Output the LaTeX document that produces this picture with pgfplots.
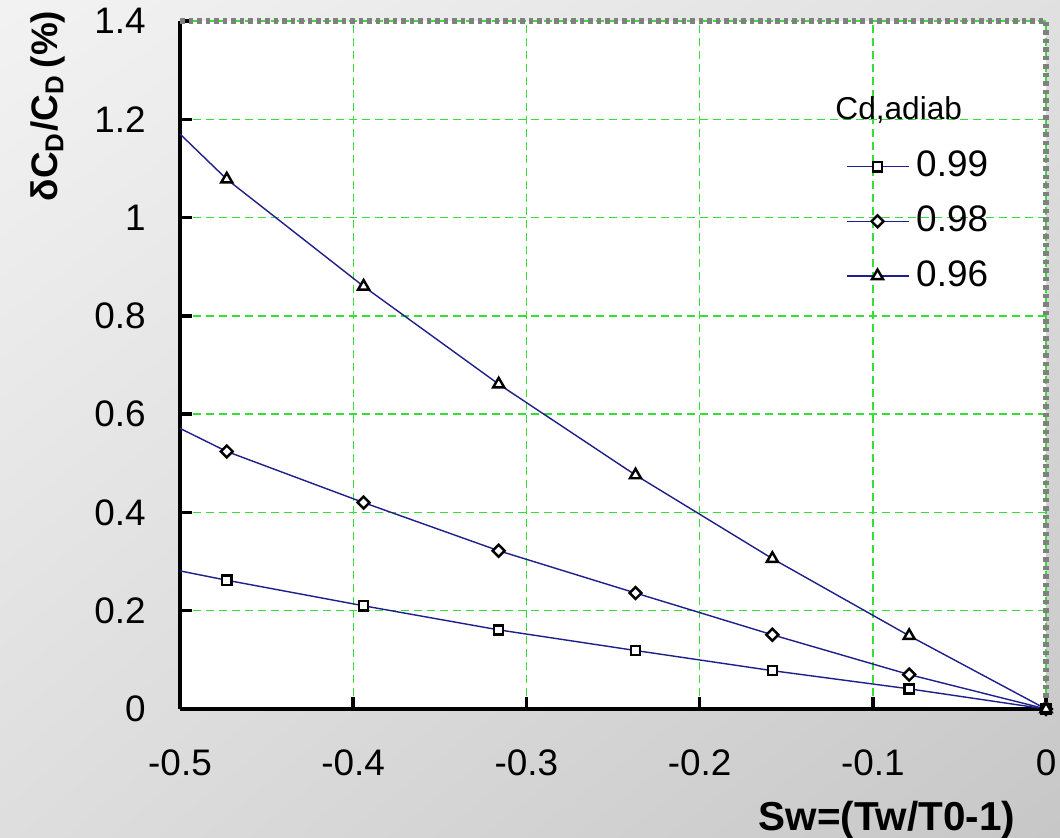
\documentclass[border=0pt]{standalone}
\usepackage{fontspec}
\setmainfont{Liberation Sans}
\usepackage{pgfplots}
\usetikzlibrary{shadings}
\pgfplotsset{compat=1.18}
\definecolor{navyl}{rgb}{0.12,0.12,0.55}
\definecolor{gridg}{rgb}{0.2,0.88,0.2}
\begin{document}
\begin{tikzpicture}[x=1mm,y=1mm]
\shade[use as bounding box, upper left=black!5, upper right=black!12, lower left=black!13, lower right=black!22] (0,0) rectangle (106,83.8);
\begin{axis}[
  at={(18mm,12.9mm)}, anchor=south west,
  scale only axis, width=86.6mm, height=68.8mm,
  xmin=-0.5, xmax=0, ymin=0, ymax=1.4,
  xtick={-0.5,-0.4,...,0.01}, ytick={0,0.2,...,1.41},
  axis x line*=bottom, axis y line*=left,
  axis line style={line width=1.4pt, black, -},
  axis background/.style={fill=white},
  tick align=inside, major tick length=1.2mm,
  every tick/.style={line width=1pt, black},
  grid=major, major grid style={gridg, dash pattern=on 0.8mm off 0.5mm, line width=0.4pt},
  /pgf/number format/assume math mode=true,
  tick label style={font=\fontsize{10.5}{12}\selectfont},
  yticklabel style={xshift=-2.2mm},
  xticklabel style={yshift=-2.8mm},
  clip=false,
  legend style={at={(rel axis cs:0.768,0.822)}, anchor=north west, draw=none, fill=none,
    font=\fontsize{10.5}{12}\selectfont, row sep=0.95mm, inner sep=0pt,
    /tikz/every even column/.append style={column sep=1mm}},
  legend cell align=left,
  legend image code/.code={\draw[mark indices={2}] plot coordinates {(0mm,0mm) (3.1mm,0mm) (6.2mm,0mm)};},
  every axis plot/.append style={navyl, line width=0.4pt, mark options={black, fill=white, line width=0.7pt, solid}},
]
\addplot[mark=square*, mark size=1.3pt, mark indices={2,...,8}] coordinates {
(-0.5,0.281) (-0.473,0.262) (-0.394,0.210) (-0.316,0.161) (-0.237,0.119) (-0.158,0.078) (-0.079,0.041) (0,0)};
\addlegendentry{0.99}
\addplot[mark=square*, mark size=1.2pt, every mark/.append style={rotate=45}, mark indices={2,...,8}] coordinates {
(-0.5,0.571) (-0.473,0.524) (-0.394,0.420) (-0.316,0.322) (-0.237,0.236) (-0.158,0.151) (-0.079,0.070) (0,0)};
\addlegendentry{0.98}
\addplot[mark=triangle*, mark size=1.8pt, mark indices={2,...,8}] coordinates {
(-0.5,1.170) (-0.473,1.078) (-0.394,0.860) (-0.316,0.661) (-0.237,0.476) (-0.158,0.306) (-0.079,0.149) (0,0)};
\addlegendentry{0.96}
\draw[black!50, line width=1.5pt, dash pattern=on 0.45mm off 0.4mm] (rel axis cs:0,1) -- (rel axis cs:1,1) -- (rel axis cs:1,0);
\end{axis}
\node[anchor=west, font=\fontsize{9}{11}\selectfont] at (82.3,72.8) {Cd,adiab};
\node[font=\bfseries\fontsize{11.5}{13}\selectfont] at (88.7,1.8) {Sw=(Tw/T0-1)};
\node[rotate=90, font=\bfseries\fontsize{10.5}{12}\selectfont] at (4.8,73.2) {δC\textsubscript{D}/C\textsubscript{D}\,(\%)};
\end{tikzpicture}
\end{document}
